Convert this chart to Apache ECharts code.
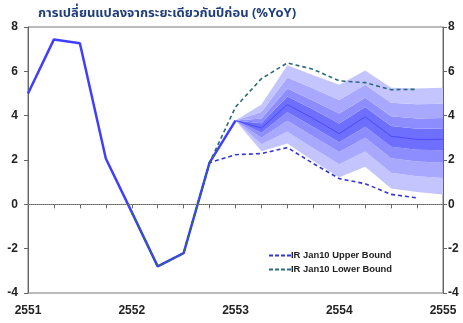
<!DOCTYPE html>
<html>
<head>
<meta charset="utf-8">
<script src="https://cdn.jsdelivr.net/npm/echarts@6/dist/echarts.min.js"></script>
<style>
  html, body { margin: 0; padding: 0; background: #fff; }
  #chart { width: 463px; height: 323px; }
</style>
</head>
<body>
<div id="chart"></div>
<script>
// Year labels on the x axis; data is quarterly between them
const years = ['2551', '2552', '2553', '2554', '2555'];
const yTicks = { min: -4, max: 8, step: 2 };

// Actual YoY growth, one value per quarter from 2551 Q1
const actual = [5.0, 7.44, 7.27, 2.07, -0.35, -2.8, -2.2, 1.88, 3.78];

// Projection bounds (index of first point and values)
const boundStart = 4;
const upperBound = [-0.35, -2.8, -2.2, 1.88, 2.24, 2.29, 2.56, 1.84, 1.16, 0.93, 0.45, 0.29];
const lowerBound = [-0.35, -2.8, -2.2, 1.88, 4.39, 5.67, 6.38, 6.09, 5.57, 5.49, 5.17, 5.19];

// Fan chart: central projection and band edges, bottom to top
const fanStart = 8;
const fanCenter = [3.78, 3.44, 4.5, 3.87, 3.19, 3.95, 3.07, 2.93, 2.93];
const edge0 = [3.78, 2.4, 2.75, 1.95, 1.22, 1.7, 0.71, 0.56, 0.44];
const edge1 = [3.78, 2.71, 3.28, 2.53, 1.81, 2.38, 1.42, 1.27, 1.19];
const edge2 = [3.78, 3.0, 3.77, 3.06, 2.36, 3.0, 2.08, 1.93, 1.88];
const edge3 = [3.78, 3.23, 4.15, 3.49, 2.8, 3.5, 2.6, 2.46, 2.44];
const edge4 = [3.78, 3.66, 4.87, 4.28, 3.65, 4.39, 3.53, 3.41, 3.42];
const edge5 = [3.78, 3.87, 5.23, 4.67, 4.1, 4.81, 3.97, 3.87, 3.89];
const edge6 = [3.78, 4.17, 5.72, 5.22, 4.71, 5.39, 4.58, 4.51, 4.54];
const edge7 = [3.78, 4.5, 6.27, 5.82, 5.4, 6.04, 5.26, 5.22, 5.26];

const edges = [edge0, edge1, edge2, edge3, edge4, edge5, edge6, edge7];
const bandColors = ['#c4c4ff', '#a8a8ff', '#8d8dff', '#6e6eff', '#8d8dff', '#a8a8ff', '#c4c4ff'];

// quarter categories: four per year, plus the first quarter of the last year
const quarters = [];
for (let y = 0; y < years.length - 1; y++) {
  for (let q = 1; q <= 4; q++) quarters.push(years[y] + ' Q' + q);
}
quarters.push(years[years.length - 1] + ' Q1');
const N = quarters.length;

function place(values, start) {
  const out = new Array(N).fill('-');
  values.forEach((v, i) => { out[start + i] = v; });
  return out;
}

const font = 'Arial, "Liberation Sans", sans-serif';
const thaiFont = 'Tahoma, "Noto Sans Thai", "DejaVu Sans", "Noto Sans", sans-serif';

const series = [];
// invisible base of the fan stack
series.push({
  type: 'line', stack: 'fan', data: place(edge0, fanStart),
  symbol: 'none', lineStyle: { width: 0 }, silent: true, z: 1
});
for (let b = 0; b < bandColors.length; b++) {
  const lo = edges[b], hi = edges[b + 1];
  series.push({
    type: 'line', stack: 'fan',
    data: place(hi.map((v, i) => +(v - lo[i]).toFixed(3)), fanStart),
    symbol: 'none', lineStyle: { width: 0 },
    areaStyle: { color: bandColors[b], opacity: 1 },
    silent: true, z: 1
  });
}
series.push({
  type: 'line', data: place(fanCenter, fanStart), symbol: 'none',
  lineStyle: { color: '#4a4aff', width: 1 }, z: 3
});
series.push({
  type: 'line', data: place(actual, 0), symbol: 'none',
  lineStyle: { color: '#3f3fff', width: 2.5 }, z: 4,
  markLine: {
    silent: true, symbol: ['none', 'none'], label: { show: false },
    lineStyle: { color: '#888', type: 'dotted', width: 1 },
    data: [{ yAxis: 0 }]
  }
});
series.push({
  name: 'IR Jan10 Upper Bound', type: 'line', data: place(upperBound, boundStart),
  symbol: 'none', itemStyle: { color: '#3535d6' },
  lineStyle: { color: '#3535d6', width: 1.6, type: [4, 3] }, z: 5
});
series.push({
  name: 'IR Jan10 Lower Bound', type: 'line', data: place(lowerBound, boundStart),
  symbol: 'none', itemStyle: { color: '#2d6b78' },
  lineStyle: { color: '#2d6b78', width: 1.6, type: [4, 3] }, z: 6
});

const yAxisCommon = {
  type: 'value', min: yTicks.min, max: yTicks.max, interval: yTicks.step,
  splitLine: { show: false },
  axisLine: { show: true, lineStyle: { color: '#666' } },
  axisTick: { show: true, length: 4, lineStyle: { color: '#666' } },
  axisLabel: { color: '#222', fontSize: 12, fontWeight: 'bold', fontFamily: font }
};

const chart = echarts.init(document.getElementById('chart'), null, { renderer: 'canvas' });
chart.setOption({
  animation: false,
  backgroundColor: '#fff',
  title: {
    text: 'การเปลี่ยนแปลงจากระยะเดียวกันปีก่อน (%YoY)',
    left: 33, top: 3,
    textStyle: { color: '#1f3d7a', fontSize: 13, fontWeight: 'bold', fontFamily: thaiFont }
  },
  grid: { left: 28, right: 20, top: 27, bottom: 30, show: true, borderColor: '#777', borderWidth: 1 },
  legend: {
    left: 264, top: 246, orient: 'vertical', itemGap: 5,
    itemWidth: 24, itemHeight: 2,
    icon: 'path://M0,0h4v2h-4z M6,0h4v2h-4z M12,0h4v2h-4z M18,0h4v2h-4z',
    textStyle: { color: '#222', fontSize: 9.4, fontWeight: 'bold', fontFamily: font, padding: [0, 0, 0, -6] },
    data: ['IR Jan10 Upper Bound', 'IR Jan10 Lower Bound']
  },
  xAxis: {
    type: 'category', data: quarters, boundaryGap: false,
    axisLine: { show: true, lineStyle: { color: '#666' } },
    axisTick: { show: true, interval: 0, length: 4, lineStyle: { color: '#666' } },
    axisLabel: {
      interval: 3, margin: 12, color: '#222', fontSize: 12, fontWeight: 'bold', fontFamily: font,
      formatter: v => v.split(' ')[0]
    },
    splitLine: { show: false }
  },
  yAxis: [
    Object.assign({}, yAxisCommon, { position: 'left', axisLabel: Object.assign({}, yAxisCommon.axisLabel, { margin: 10 }) }),
    Object.assign({}, yAxisCommon, { position: 'right', axisLabel: Object.assign({}, yAxisCommon.axisLabel, { margin: 5 }) })
  ],
  series: series
});
</script>
</body>
</html>
